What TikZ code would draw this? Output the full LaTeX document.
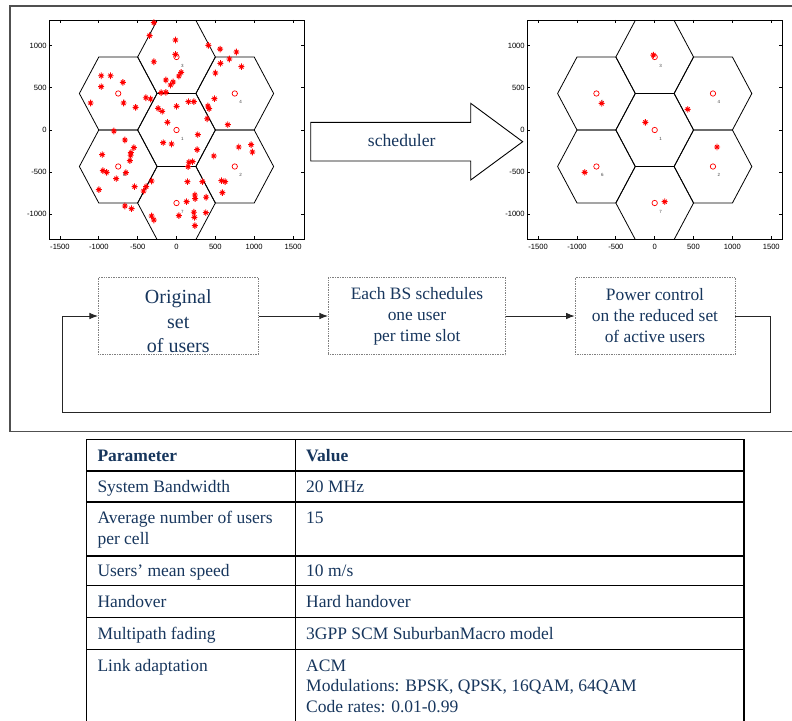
\documentclass[tikz,border=0pt]{standalone}
\usepackage{fontspec}
\setmainfont{Liberation Serif}
\setsansfont{Liberation Sans}
\usetikzlibrary{arrows.meta}
\usetikzlibrary{positioning}
\definecolor{tblue}{RGB}{23,54,93}
\definecolor{frgray}{RGB}{80,80,80}

\tikzset{
  cell/.style={black, line width=0.8pt},
  axbox/.style={black, line width=0.8pt},
  bs/.style={red, line width=0.7pt},
  usr/.pic={\draw[red, line width=0.9pt] (-3pt,0) -- (3pt,0) (0,-3.3pt) -- (0,3.3pt)
    (-2pt,-2pt) -- (2pt,2pt) (-2pt,2pt) -- (2pt,-2pt);},
  ticklbl/.style={font=\sffamily\fontsize{7.6}{8}\selectfont, inner sep=0pt},
  celllbl/.style={font=\sffamily\fontsize{4.5}{5}\selectfont, text=darkgray, inner sep=0pt},
  flowbox/.style={draw=gray, densely dotted, line width=0.7pt, minimum height=77.5pt,
    text=tblue, align=center, inner sep=0pt},
  flow/.style={-{Latex[length=8.5pt,width=6.5pt]}, line width=0.9pt, black!85},
  celltxt/.style={anchor=base west, inner sep=0pt, text=tblue, align=left,
    font=\fontsize{17.5}{21}\selectfont},
  tline/.style={black, line width=1.1pt}
}

% one hexagonal layout with its axes, #1 = prefix of the node names
\newcommand{\hexplot}[1]{%
  \begin{scope}
    \clip (-1641,-1298) rectangle (1641,1305);
    \foreach \cx/\cy in {0/0,750/-433,0/866,750/433,-750/433,-750/-433,0/-866}
      \draw[cell] (\cx,\cy) +(500,0) -- +(250,433) -- +(-250,433) -- +(-500,0)
        -- +(-250,-433) -- +(250,-433) -- cycle;
  \end{scope}
  \draw[axbox] (-1641,-1298) rectangle (1641,1305);
  \foreach \i in {-1500,-1000,...,1500} {
    \draw[axbox] (\i,-1298) -- ++(0,3pt);
    \draw[axbox] (\i,1305) -- ++(0,-3pt);
    \node[ticklbl] (#1x\i) at ([yshift=-7.6pt]\i,-1298) {\i};
  }
  \foreach \j in {-1000,-500,...,1000} {
    \draw[axbox] (-1641,\j) -- ++(3pt,0);
    \draw[axbox] (1641,\j) -- ++(-3pt,0);
    \node[ticklbl, anchor=east] (#1y\j) at ([xshift=-2.3pt]-1641,\j) {\j};
  }
  \foreach \cx/\cy/\n in {0/0/1,750/-433/2,0/866/3,750/433/4,-750/433/5,-750/-433/6,0/-866/7} {
    \draw[bs] (\cx,\cy) circle[radius=2.7pt];
    \node[celllbl] (#1c\n) at (\cx+75,\cy-105) {\n};
  }
}

\begin{document}
\begin{tikzpicture}[x=1pt, y=1pt]
  \clip (0,0) rectangle (792,-720);
  \draw[frgray, line width=1.5pt] (800,-6) -- (10,-6) -- (10,-431.7) -- (800,-431.7);

  % all users
  \begin{scope}[shift={(176.5pt,-130pt)}, x=0.0777pt, y=0.0843pt]
    \hexplot{l}
    \foreach \ux/\uy in {-291/1273,-347/1119,-13/1067,411/1004,561/960,771/925,-291/810,
      -13/897,681/842,566/790,836/751,60/684,30/640,-137/593,-43/569,-77/534,-197/443,
      -137/447,-969/644,-849/644,-969/514,-690/565,-1106/320,-681/320,-527/269,-394/383,
      -334/368,-236/257,-184/221,0/281,154/336,223/336,501/676,489/372,403/285,420/253,
      394/134,660/63,-116/91,274/-55,-806/-12,-664/-119,-549/-209,-587/-269,-591/-300,
      -600/-364,-956/-292,-947/-482,-900/-502,-776/-577,-651/-506,-540/-672,-999/-708,
      -424/-723,-390/-672,-321/-605,-664/-901,-579/-933,-171/-150,-64/-166,266/-233,
      159/-383,206/-375,150/-435,141/-613,334/-613,480/-308,801/-202,960/-174,977/-261,
      579/-601,626/-613,591/-743,381/-798,236/-771,240/-814,129/-850,223/-976,377/-980,
      30/-1016,231/-1036,-321/-1020,-291/-1067,236/-1134}
      \pic at (\ux,\uy) {usr};
  \end{scope}

  % scheduled users
  \begin{scope}[shift={(654.7pt,-130pt)}, x=0.0777pt, y=0.0843pt]
    \hexplot{r}
    \foreach \ux/\uy in {-17/889,-682/316,425/245,-120/91,802/-202,-901/-502,129/-850}
      \pic at (\ux,\uy) {usr};
  \end{scope}

  \draw[black, line width=0.9pt, fill=white] (310.7,-122.3) -- (470.7,-122.3) -- (470.7,-103.3)
    -- (522.7,-141.7) -- (470.7,-180) -- (470.7,-161) -- (310.7,-161) -- cycle;
  \node[text=tblue, font=\fontsize{17.6}{21}\selectfont] (schedlbl) at (401.7,-140.5) {scheduler};

  \node[flowbox, minimum width=160pt] (orig) at (178.3,-316) {};
  \node[text=tblue, align=center, inner sep=0pt, font=\fontsize{20}{24.7}\selectfont]
    (origtxt) at (178.3,-321.4) {Original\\set\\of users};
  \node[flowbox, minimum width=177.4pt, font=\fontsize{17.4}{21}\selectfont] (pick)
    at (417,-316) {Each BS schedules\\one user\\per time slot};
  \node[flowbox, minimum width=160pt, font=\fontsize{17.4}{21}\selectfont] (pctrl)
    at (655,-316) {Power control\\on the reduced set\\of active users};
  \coordinate (fbr) at (770,-412.7);
  \coordinate (fbl) at (62.7,-412.7);
  \draw[flow] (orig) -- (pick);
  \draw[flow] (pick) -- (pctrl);
  \draw[flow] (pctrl.east) -| (fbr) -- (fbl) |- (orig.west);

  % table
  \foreach \ty in {439.3,471,502,556,585.7,617.3,649.3}
    \draw[tline] (86.7,-\ty) -- (744,-\ty);
  \foreach \tx in {86.7,295.7,744}
    \draw[tline] (\tx,-439.3) -- (\tx,-730);
  \node[celltxt, font=\bfseries\fontsize{17.5}{21}\selectfont] (par) at (97.3,-461.7) {Parameter};
  \node[celltxt, font=\bfseries\fontsize{17.5}{21}\selectfont] (val) at (306,-461.7) {Value};
  \node[celltxt] (p1) at (97.3,-492.3) {System Bandwidth};
  \node[celltxt] (v1) at (306,-492.3) {20 MHz};
  \node[celltxt] (p2) at (97.3,-544.8) {Average number of users\\per cell};
  \node[celltxt] (v2) at (306,-523.3) {15};
  \node[celltxt] (p3) at (97.3,-576.7) {Users’ mean speed};
  \node[celltxt] (v3) at (306,-576.7) {10 m/s};
  \node[celltxt] (p4) at (97.3,-607.7) {Handover};
  \node[celltxt] (v4) at (306,-607.7) {Hard handover};
  \node[celltxt] (p5) at (97.3,-639) {Multipath fading};
  \node[celltxt] (v5) at (306,-639) {3GPP SCM SuburbanMacro model};
  \node[celltxt] (p6) at (97.3,-671) {Link adaptation};
  \node[celltxt, font=\fontsize{17.5}{20.8}\selectfont] (v6) at (306,-712.6)
    {ACM\\Modulations: BPSK, QPSK, 16QAM, 64QAM\\Code rates: 0.01-0.99};
\end{tikzpicture}
\end{document}
